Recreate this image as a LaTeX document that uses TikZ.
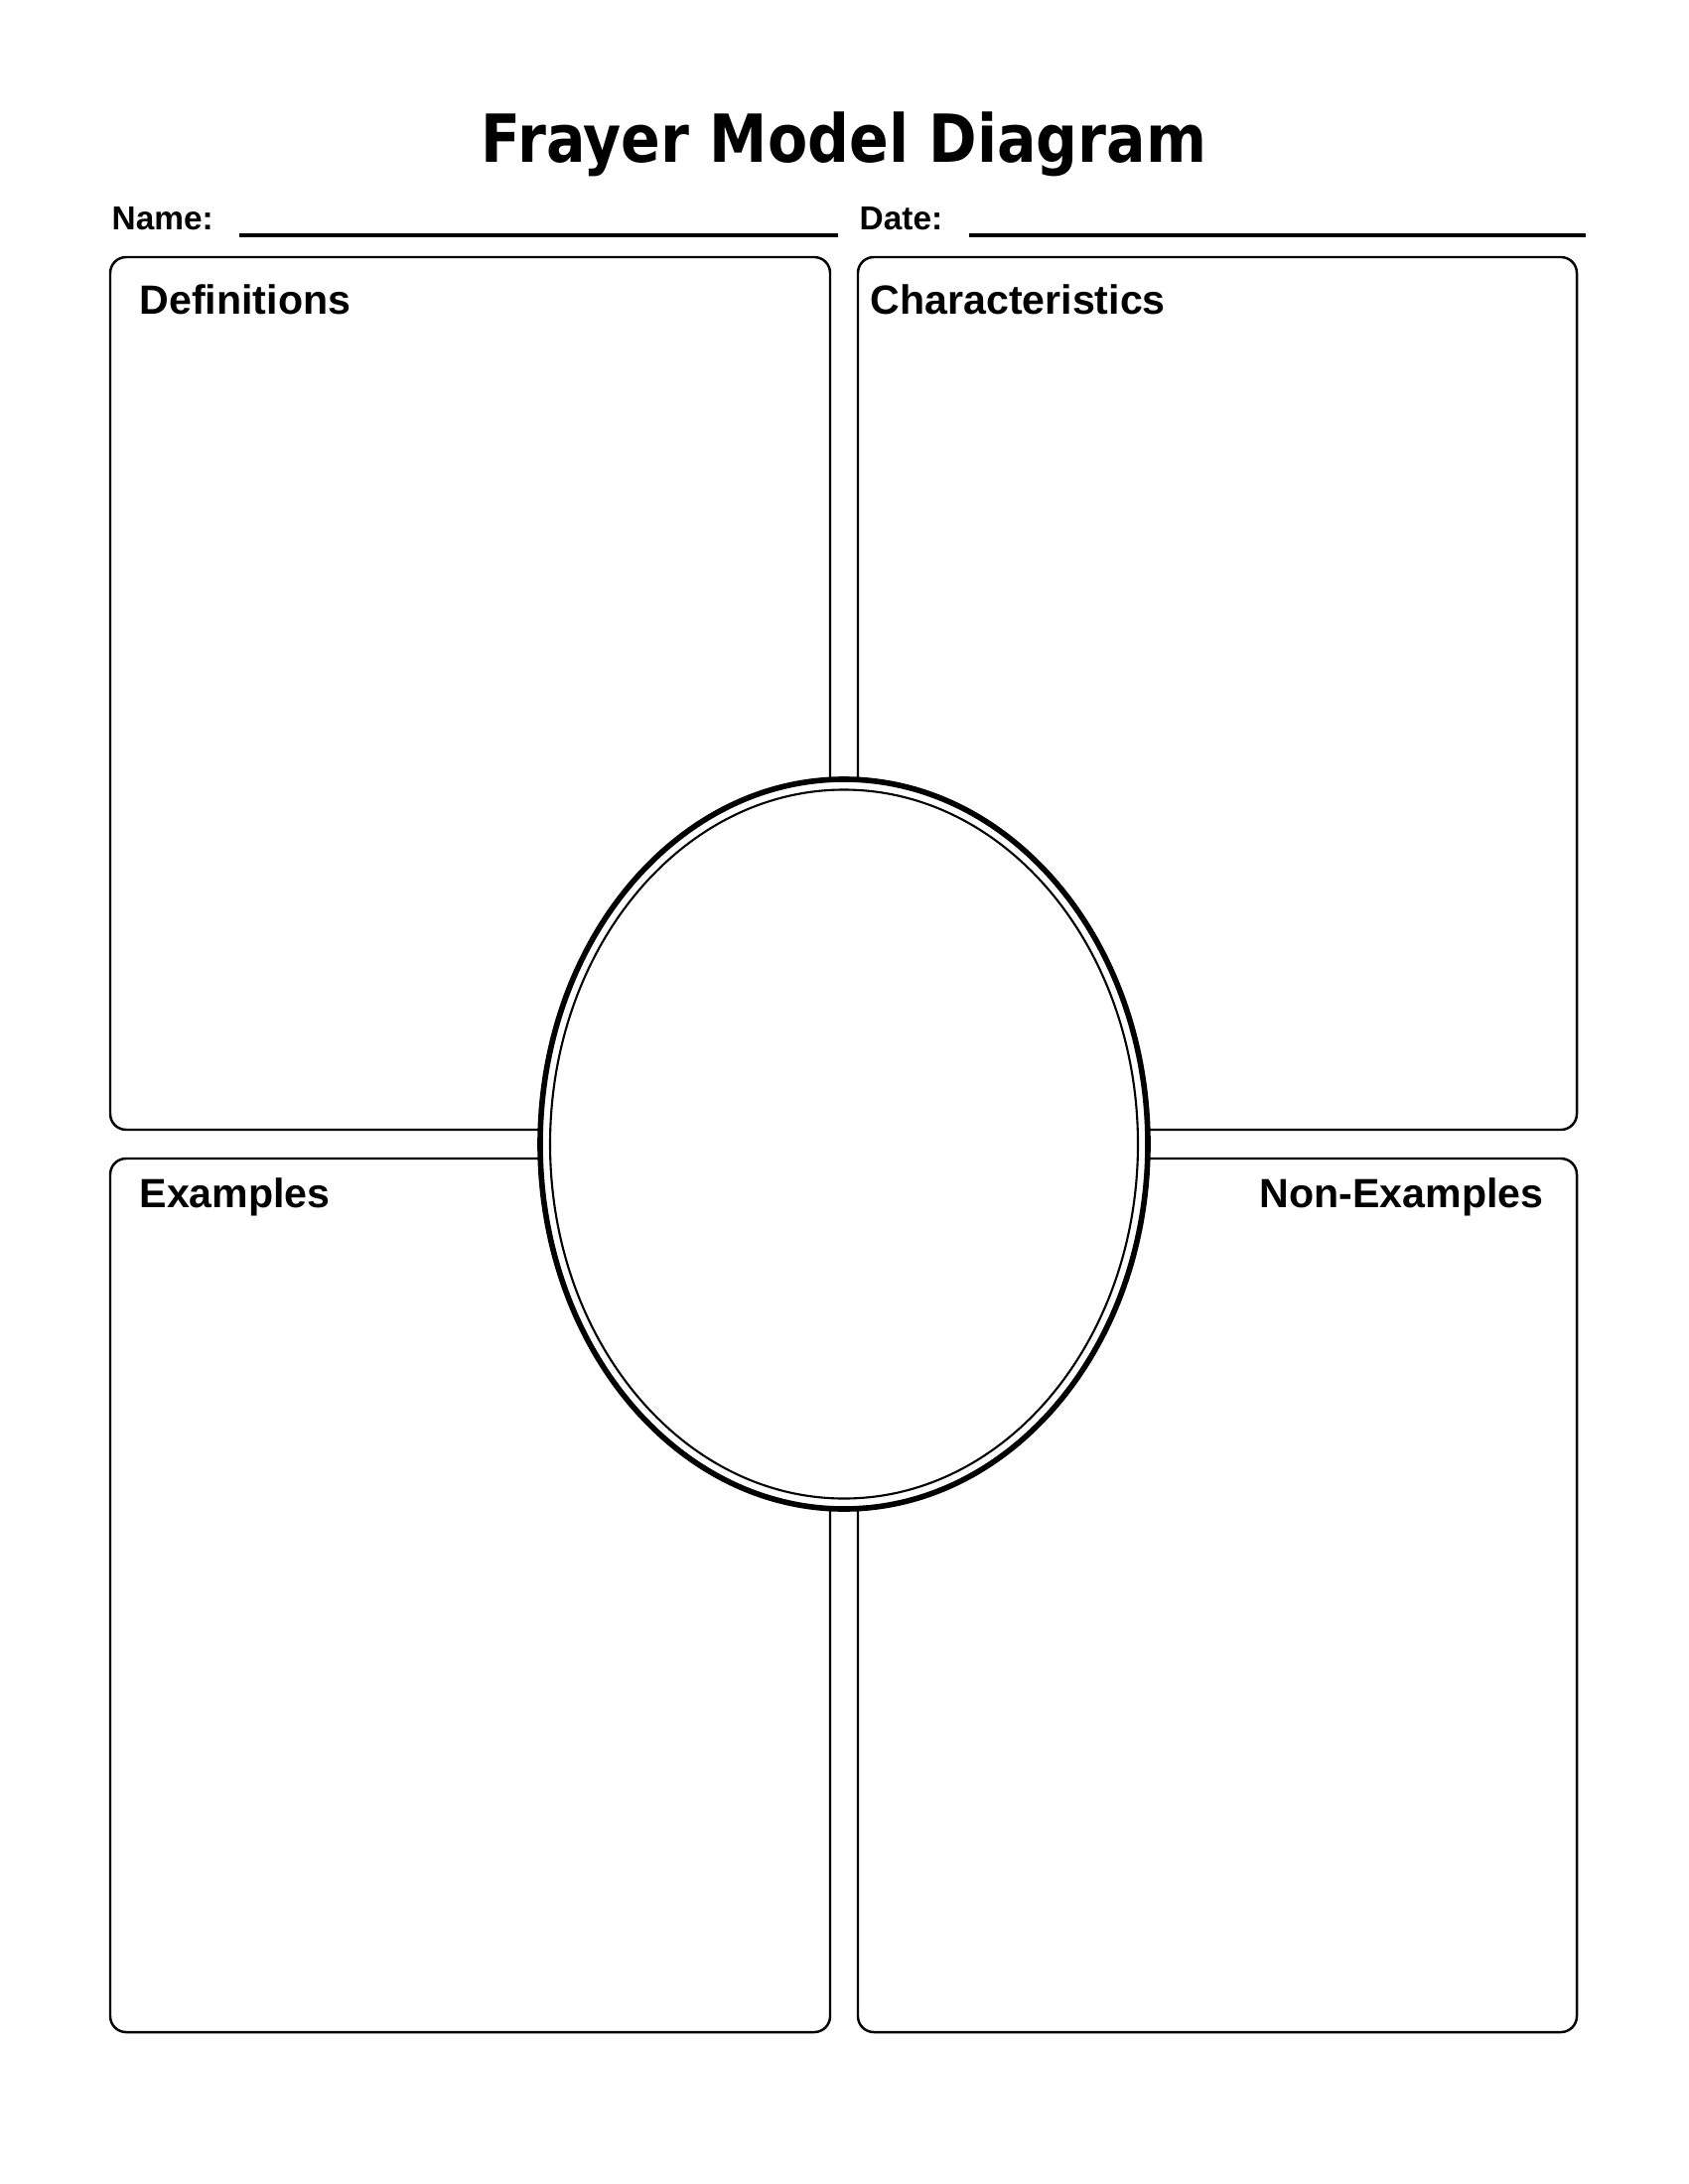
\documentclass[tikz,border=0pt]{standalone}
\usepackage{fontspec}
\setmainfont{Liberation Sans}
\newfontfamily\titlefont{DejaVu Sans}
\usepackage{tikz}

\begin{document}
\begin{tikzpicture}[
    heading/.style={inner sep=0pt, font=\bfseries\fontsize{11.7}{14}\selectfont},
    field/.style={inner sep=0pt, font=\bfseries\fontsize{9.5}{12}\selectfont},
    panel/.style={line width=0.7pt, rounded corners=0.16cm},
    blank/.style={line width=0.95pt}
]
        \useasboundingbox (0,0) rectangle (17,-22);
        % 标题
        \node[inner sep=0pt, anchor=base] (title) at (8.5,-1.64)
            {\scalebox{0.877}[1]{\titlefont\bfseries\fontsize{19}{23}\selectfont Frayer Model Diagram}};
        % 姓名与日期
        \node[field, anchor=base west] (name) at (1.12,-2.32) {Name:};
        \node[field, anchor=base west] (date) at (8.65,-2.32) {Date:};
        \coordinate (name0) at (2.41,-2.37);
        \coordinate (name1) at (8.44,-2.37);
        \coordinate (date0) at (9.76,-2.37);
        \coordinate (date1) at (15.97,-2.37);
        \draw[blank] (name0)--(name1);
        \draw[blank] (date0)--(date1);
        % 四个方框
        \draw[panel] (1.11,-2.59) rectangle (8.36,-11.38);
        \draw[panel] (8.64,-2.59) rectangle (15.88,-11.38);
        \draw[panel] (1.11,-11.67) rectangle (8.36,-20.47);
        \draw[panel] (8.64,-11.67) rectangle (15.88,-20.47);
        \node[heading, anchor=base west] (defs) at (1.40,-3.17) {Definitions};
        \node[heading, anchor=base west] (chars) at (8.76,-3.17) {Characteristics};
        \node[heading, anchor=base west] (exs) at (1.40,-12.16) {Examples};
        \node[heading, anchor=base east] (nonexs) at (15.55,-12.16) {Non-Examples};
        % 中间椭圆
        \draw[line width=1.6pt, fill=white] (8.5,-11.525) ellipse [x radius=3.06, y radius=3.675];
        \draw[line width=0.6pt] (8.5,-11.525) ellipse [x radius=2.96, y radius=3.57];
    \end{tikzpicture}
\end{document}
